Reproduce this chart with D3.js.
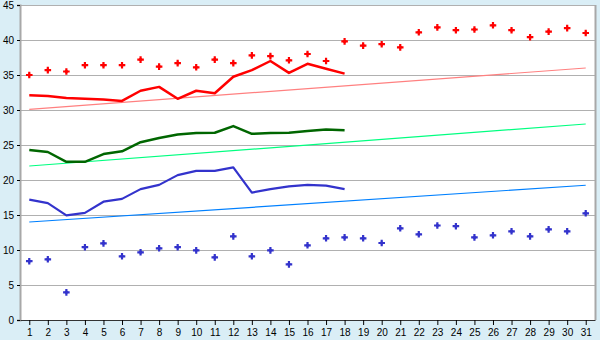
<!DOCTYPE html>
<html>
<head>
<meta charset="utf-8">
<script src="https://cdn.jsdelivr.net/npm/d3@7"></script>
<style>
  body { margin: 0; background: #daeef6; }
  svg { display: block; }
  .tick text { font-family: "Liberation Sans", Arial, sans-serif; font-size: 10px; fill: #000; }
</style>
</head>
<body>
<svg id="chart"></svg>
<script>
// days of the month
const days = d3.range(1, 32);
// record highs / lows (markers)
const maxRecord = [35.0, 35.7, 35.5, 36.4, 36.4, 36.4, 37.2, 36.2, 36.7, 36.1, 37.2, 36.7, 37.8, 37.7, 37.1, 38.0,
                   37.0, 39.8, 39.2, 39.4, 38.95, 41.1, 41.8, 41.4, 41.5, 42.1, 41.4, 40.4, 41.2, 41.7, 41.0];
const minRecord = [8.4, 8.67, 3.95, 10.4, 10.95, 9.1, 9.67, 10.24, 10.4, 9.95, 8.95, 11.95, 9.1, 9.95, 7.95, 10.67,
                   11.67, 11.8, 11.67, 11.0, 13.1, 12.24, 13.5, 13.4, 11.8, 12.1, 12.67, 11.95, 12.95, 12.67, 15.24];
// daily values for the first 18 days
const highLine = [32.1, 32.0, 31.7, 31.6, 31.5, 31.3, 32.75, 33.3, 31.6, 32.75, 32.4, 34.75, 35.7, 37.0, 35.3, 36.6, 35.9, 35.2];
const meanLine = [24.3, 24.0, 22.6, 22.6, 23.7, 24.1, 25.4, 26.0, 26.5, 26.7, 26.75, 27.7, 26.6, 26.7, 26.75, 27.0, 27.2, 27.1];
const lowLine  = [17.2, 16.7, 14.95, 15.3, 16.9, 17.3, 18.7, 19.3, 20.7, 21.3, 21.3, 21.8, 18.2, 18.7, 19.1, 19.3, 19.2, 18.7];
// normal values at day 1 and day 31
const trendDays = [1, 31];
const highNormal = [30.1, 36.0];
const meanNormal = [22.0, 28.0];
const lowNormal  = [14.0, 19.25];
const yTicks = [0, 5, 10, 15, 20, 25, 30, 35, 40, 45];

const width = 600, height = 340;
const margin = {top: 5, right: 5, bottom: 20, left: 20};

const svg = d3.select('#chart').attr('width', width).attr('height', height);

const x = d3.scalePoint()
  .domain(days)
  .range([margin.left, width - margin.right])
  .padding(0.5);

const y = d3.scaleLinear()
  .domain([0, 45])
  .range([height - margin.bottom, margin.top]);

// plot background
svg.append('rect')
  .attr('x', margin.left).attr('y', margin.top)
  .attr('width', width - margin.left - margin.right)
  .attr('height', height - margin.top - margin.bottom)
  .attr('fill', '#fff');

// gridlines
svg.append('g')
  .selectAll('line')
  .data(yTicks.slice(1))
  .join('line')
  .attr('x1', margin.left).attr('x2', width - margin.right)
  .attr('y1', d => y(d) + 0.5).attr('y2', d => y(d) + 0.5)
  .attr('stroke', '#b0b0b0')
  .attr('stroke-width', 1);

// right border
svg.append('line')
  .attr('x1', width - margin.right + 0.5).attr('x2', width - margin.right + 0.5)
  .attr('y1', margin.top).attr('y2', height - margin.bottom)
  .attr('stroke', '#a8a8a8').attr('stroke-width', 2);

// y axis
const yAxis = svg.append('g')
  .attr('transform', `translate(${margin.left},0)`)
  .call(d3.axisLeft(y).tickValues(yTicks).tickSize(3).tickPadding(3));
yAxis.select('.domain').attr('stroke', '#a8a8a8').attr('stroke-width', 2);
yAxis.selectAll('.tick line').attr('stroke', '#000');

// x axis
const xAxis = svg.append('g')
  .attr('transform', `translate(0,${height - margin.bottom})`)
  .call(d3.axisBottom(x).tickSize(5).tickPadding(4).tickSizeOuter(0));
xAxis.select('.domain').attr('stroke', '#333');
xAxis.selectAll('.tick line').attr('stroke', '#000');

// normal (trend) lines
const trendLine = d3.line().x(d => x(d[0])).y(d => y(d[1]));
[[highNormal, '#ff8080'], [meanNormal, '#00ff80'], [lowNormal, '#0080ff']].forEach(([vals, color]) => {
  svg.append('path')
    .attr('d', trendLine(trendDays.map((d, i) => [d, vals[i]])))
    .attr('fill', 'none')
    .attr('stroke', color)
    .attr('stroke-width', 1.2);
});

// daily lines
const dayLine = d3.line().x((d, i) => x(days[i])).y(d => y(d));
[[highLine, '#ff0000', 2.5], [meanLine, '#006600', 2.5], [lowLine, '#3333cc', 2.2]].forEach(([vals, color, w]) => {
  svg.append('path')
    .attr('d', dayLine(vals))
    .attr('fill', 'none')
    .attr('stroke', color)
    .attr('stroke-width', w)
    .attr('stroke-linejoin', 'round');
});

// record markers: a plus with a filled diamond core
const cross = d3.symbol().type(d3.symbolCross).size(24);
const diamond = d3.symbol().type(d3.symbolSquare).size(10);
[[maxRecord, '#ff0000'], [minRecord, '#3333cc']].forEach(([vals, color]) => {
  const g = svg.append('g')
    .selectAll('g')
    .data(vals)
    .join('g')
    .attr('transform', (d, i) => `translate(${x(days[i])},${y(d)})`)
    .attr('fill', color);
  g.append('path').attr('d', cross);
  g.append('path').attr('d', diamond).attr('transform', 'rotate(45)');
});
</script>
</body>
</html>
